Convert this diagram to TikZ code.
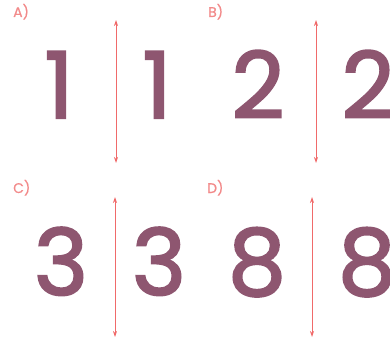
\documentclass[tikz,border=0pt]{standalone}
\usepackage{fontspec}
\setmainfont{Poppins}
\newfontfamily\digitfont{Poppins}[FakeBold=2.2]
\newfontfamily\labelfont{Poppins}[FakeBold=0.6]
\usepackage{xcolor}
\usetikzlibrary{arrows.meta}
\definecolor{digitmauve}{HTML}{8E5670}
\definecolor{arrowred}{HTML}{F06A6A}
\definecolor{labelpink}{HTML}{F28A8A}

\begin{document}
\begin{tikzpicture}[x=1pt, y=1pt,
    digit/.style={inner sep=0pt, anchor=base, text=digitmauve, font=\digitfont\fontsize{92}{92}\selectfont},
    panellabel/.style={inner sep=0pt, anchor=base west, text=labelpink, font=\labelfont\fontsize{14}{14}\selectfont},
    mirror/.style={draw=arrowred, line width=0.8pt, {Stealth[length=6pt,width=4pt]}-{Stealth[length=6pt,width=4pt]}}]
    \clip (0,0) rectangle (390,349);
    \useasboundingbox (0,0) rectangle (390,349);

    % Panel labels
    \node[panellabel] (lblA) at (13,332) {A)};
    \node[panellabel] (lblB) at (208,332) {B)};
    \node[panellabel] (lblC) at (13,156) {C)};
    \node[panellabel] (lblD) at (207,156) {D)};

    % Digits and their mirror images
    \node[digit] (oneL) at (59,231) {1};
    \node[digit] (oneR) at (157,231) {1};
    \node[digit] (twoL) at (258,231) {2};
    \node[digit] (twoR) at (368,231) {2};
    \node[digit] (threeL) at (61,54) {3};
    \node[digit] (threeR) at (159,54) {3};
    \node[digit] (eightL) at (257,54) {8};
    \node[digit] (eightR) at (367,54) {8};

    % Mirror lines
    \coordinate (topA) at (116,329); \coordinate (botA) at (116,186);
    \coordinate (topB) at (316,329); \coordinate (botB) at (316,186);
    \coordinate (topC) at (115,152); \coordinate (botC) at (115,12);
    \coordinate (topD) at (312,152); \coordinate (botD) at (312,12);
    \draw[mirror] (topA) -- (botA);
    \draw[mirror] (topB) -- (botB);
    \draw[mirror] (topC) -- (botC);
    \draw[mirror] (topD) -- (botD);
\end{tikzpicture}
\end{document}
